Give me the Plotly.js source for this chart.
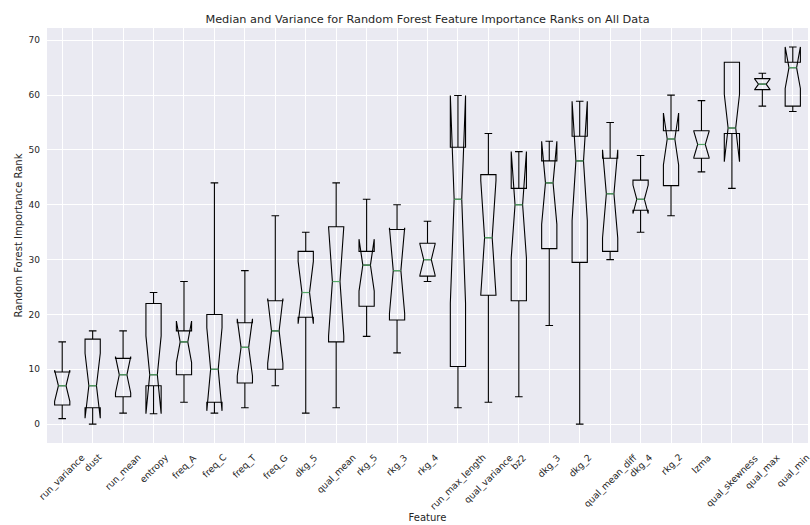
<!DOCTYPE html>
<html>
<head>
<meta charset="utf-8">
<script src="https://cdn.plot.ly/plotly-3.0.1.min.js"></script>
<style>html,body{margin:0;padding:0;background:#fff;}#chart{width:810px;height:525px;}</style>
</head>
<body>
<div id="chart"></div>
<script>
// Feature names (x categories)
const features = ["run_variance","dust","run_mean","entropy","freq_A","freq_C","freq_T","freq_G","dkg_5","qual_mean","rkg_5","rkg_3","rkg_4","run_max_length","qual_variance","bz2","dkg_3","dkg_2","qual_mean_diff","dkg_4","rkg_2","lzma","qual_skewness","qual_max","qual_min"];
// Box statistics
const lowerWhisker = [1, 0, 2, 3, 4, 2, 3, 7, 2, 3, 16, 13, 26, 3, 4, 5, 18, 0, 30, 35, 38, 46, 43, 58, 57];
const q1Values     = [3.5, 3, 5, 7, 9, 4, 7.5, 10, 19.5, 15, 21.5, 19, 27, 10.5, 23.5, 22.5, 32, 29.5, 31.5, 39, 43.5, 48.5, 53, 61, 58];
const medians      = [7, 7, 9, 9, 15, 10, 14, 17, 24, 26, 29, 28, 30, 41, 34, 40, 44, 48, 42, 41, 52, 51, 54, 62, 65];
const q3Values     = [9.5, 15.5, 12, 22, 17, 20, 18.5, 22.5, 31.5, 36, 31.5, 35.5, 33, 50.5, 45.5, 43, 48, 52.5, 48.5, 44.5, 53.5, 53.5, 66, 63, 66];
const upperWhisker = [15, 17, 17, 24, 26, 44, 28, 38, 35, 44, 41, 40, 37, 58, 53, 47, 50, 57, 55, 49, 60, 59, 66, 64, 66];
const samplesPerFeature = 11;

const positions = features.map((_, i) => i + 1);
// matplotlib notch half-width: 1.57 * IQR / sqrt(N)
const notchSpans = q1Values.map((q, i) => 1.57 * (q3Values[i] - q) / Math.sqrt(samplesPerFeature));

const textColor = '#262626';
const font = 'DejaVu Sans, sans-serif';

const boxTrace = {
  type: 'box',
  x: positions,
  q1: q1Values,
  median: medians,
  q3: q3Values,
  lowerfence: lowerWhisker,
  upperfence: upperWhisker,
  notchspan: notchSpans,
  notched: true,
  notchwidth: 0.25,
  whiskerwidth: 0.5,
  width: 0.5,
  boxpoints: false,
  line: {color: '#000000', width: 1.1},
  fillcolor: 'rgba(0,0,0,0)',
  hoverinfo: 'skip',
  showlegend: false
};

const mx = [], my = [];
positions.forEach((p, i) => { mx.push(p - 0.125, p + 0.125, null); my.push(medians[i], medians[i], null); });
const medianTrace = {
  type: 'scatter', mode: 'lines', x: mx, y: my,
  line: {color: '#55a868', width: 1.2}, hoverinfo: 'skip', showlegend: false
};

const labelAnnotations = features.map((f, i) => ({
  x: positions[i], xref: 'x', y: 0, yref: 'paper', yshift: -6,
  text: f, textangle: -45, xanchor: 'center', yanchor: 'top',
  showarrow: false, font: {family: font, size: 9.2, color: textColor}
}));

const layout = {
  width: 810, height: 525,
  margin: {l: 47, r: 2, t: 28, b: 82},
  paper_bgcolor: '#ffffff',
  plot_bgcolor: '#EAEAF2',
  font: {family: font, color: textColor},
  title: {text: 'Median and Variance for Random Forest Feature Importance Ranks on All Data',
          font: {family: font, size: 11.3, color: textColor},
          x: 0.5, xref: 'paper', xanchor: 'center', y: 1, yref: 'paper', yanchor: 'bottom', pad: {b: 5}},
  xaxis: {
    range: [0.5, 25.5], tickvals: positions, showticklabels: false, ticks: '',
    showgrid: true, gridcolor: '#ffffff', gridwidth: 1, zeroline: false, showline: false,
    title: {text: 'Feature', font: {family: font, size: 10, color: textColor}, standoff: 70}
  },
  yaxis: {
    range: [-3.44, 72.24], dtick: 10, tick0: 0, ticks: '', ticklabelstandoff: 6,
    tickfont: {family: font, size: 9, color: textColor},
    showgrid: true, gridcolor: '#ffffff', gridwidth: 1, zeroline: false, showline: false,
    title: {text: 'Random Forest Importance Rank', font: {family: font, size: 10, color: textColor}, standoff: 4}
  },
  annotations: labelAnnotations
};

Plotly.newPlot('chart', [boxTrace, medianTrace], layout, {displayModeBar: false, staticPlot: true});
</script>
</body>
</html>
